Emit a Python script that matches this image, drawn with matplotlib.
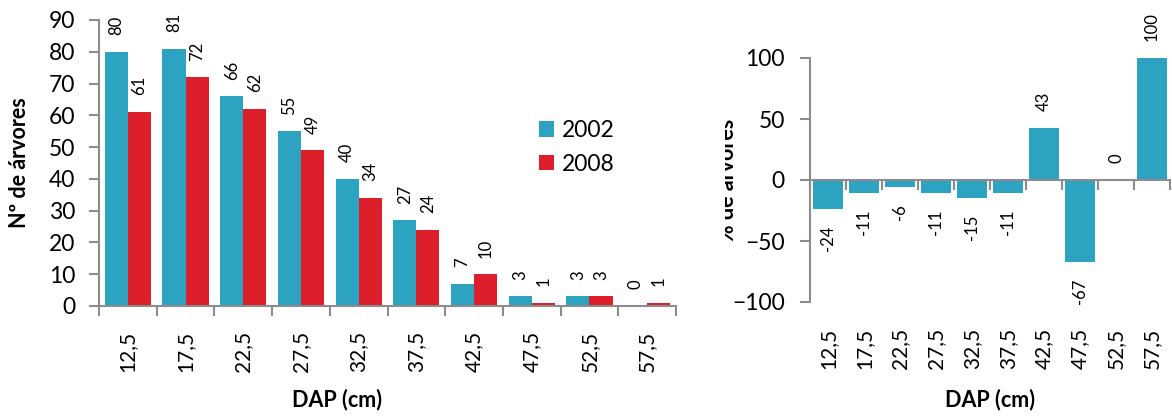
import matplotlib
matplotlib.use('Agg')
import matplotlib.pyplot as plt
from matplotlib.transforms import Bbox, TransformedBbox, blended_transform_factory
import numpy as np

plt.rcParams['font.family'] = ['Lato', 'DejaVu Sans']

# Data
dap_classes = ['12,5', '17,5', '22,5', '27,5', '32,5', '37,5', '42,5', '47,5', '52,5', '57,5']
trees_2002 = [80, 81, 66, 55, 40, 27, 7, 3, 3, 0]
trees_2008 = [61, 72, 62, 49, 34, 24, 10, 1, 3, 1]
pct_change = [-24, -11, -6, -11, -15, -11, 43, -67, 0, 100]

teal = '#2CA3C0'
red = '#DC1F2B'
axis_gray = '#8C8C8C'

fig = plt.figure(figsize=(11.72, 4.16), dpi=100)
ax1 = fig.add_axes([99 / 1172, 1 - 306 / 416, 577 / 1172, 286 / 416])
ax2 = fig.add_axes([810 / 1172, 1 - 302 / 416, 360 / 1172, 244 / 416])

x = np.arange(len(dap_classes))
bounds = np.arange(len(dap_classes) + 1) - 0.5
w = 0.4

# ---- left panel: counts per class ----
b1 = ax1.bar(x - w / 2, trees_2002, w, color=teal, label='2002')
b2 = ax1.bar(x + w / 2, trees_2008, w, color=red, label='2008')
for bars, vals in ((b1, trees_2002), (b2, trees_2008)):
    for rect, v in zip(bars, vals):
        ax1.annotate(str(v), (rect.get_x() + rect.get_width() / 2, v),
                     xytext=(0, 12), textcoords='offset points',
                     rotation=90, ha='center', va='bottom', fontsize=12)

ax1.set_xlim(-0.5, len(dap_classes) - 0.5)
ax1.set_ylim(0, 90)
ax1.set_yticks(range(0, 91, 10))
ax1.set_xticks(bounds)
ax1.set_xticklabels([])
ax1.set_xticks(x, minor=True)
ax1.set_xticklabels(dap_classes, minor=True, rotation=90, fontsize=15)
ax1.tick_params(axis='x', which='major', direction='out', length=7, width=1.5, color=axis_gray)
ax1.tick_params(axis='x', which='minor', length=0, pad=18)
ax1.tick_params(axis='y', direction='out', length=7, width=1.5, color=axis_gray,
                labelsize=16.5, pad=10)
for s in ('top', 'right'):
    ax1.spines[s].set_visible(False)
for s in ('left', 'bottom'):
    ax1.spines[s].set_color(axis_gray)
    ax1.spines[s].set_linewidth(1.5)

ax1.set_ylabel('Nº de árvores', fontsize=15.5, fontweight='bold')
ax1.yaxis.set_label_coords((30 - 99) / 577, 0.5)
ax1.set_xlabel('DAP (cm)', fontsize=15.5, fontweight='bold')
ax1.xaxis.set_label_coords((337 - 99) / 577, -(400 - 306) / 286)
ax1.xaxis.label.set_va('center')

ax1.legend(loc='center left', bbox_to_anchor=((539 - 99) / 577, (306 - 147.5) / 286),
           frameon=False, fontsize=16.5, borderpad=0, borderaxespad=0,
           handlelength=0.66, handleheight=0.66, handletextpad=0.35, labelspacing=0.55)

# ---- right panel: % change ----
bars = ax2.bar(x, pct_change, 0.86, color=teal)
for rect, v in zip(bars, pct_change):
    if v >= 0:
        ax2.annotate(str(v), (rect.get_x() + rect.get_width() / 2, v),
                     xytext=(0, 12), textcoords='offset points',
                     rotation=90, ha='center', va='bottom', fontsize=12)
    else:
        ax2.annotate(str(v), (rect.get_x() + rect.get_width() / 2, v),
                     xytext=(0, -12), textcoords='offset points',
                     rotation=90, ha='center', va='top', fontsize=12)

ax2.set_xlim(-0.5, len(dap_classes) - 0.5)
ax2.set_ylim(-100, 100)
ax2.set_yticks([-100, -50, 0, 50, 100])
ax2.set_xticks(bounds)
ax2.set_xticklabels([])
ax2.spines['bottom'].set_position(('data', 0))
ax2.tick_params(axis='x', direction='out', length=7, width=1.5, color=axis_gray)
ax2.tick_params(axis='y', direction='out', length=7, width=1.5, color=axis_gray,
                labelsize=16.5, pad=11)
for s in ('top', 'right'):
    ax2.spines[s].set_visible(False)
for s in ('left', 'bottom'):
    ax2.spines[s].set_color(axis_gray)
    ax2.spines[s].set_linewidth(1.5)

trans = blended_transform_factory(ax2.transData, ax2.transAxes)
for xi, lab in zip(x, dap_classes):
    ax2.text(xi, -(328 - 302) / 244, lab, transform=trans, rotation=90,
             ha='center', va='top', fontsize=15)

ax2.set_xlabel('DAP (cm)', fontsize=15.5, fontweight='bold')
ax2.xaxis.set_label_coords(0.5, -(400 - 302) / 244)
ax2.xaxis.label.set_va('center')

# y label is partly cut off on its left side in the original
yl = ax2.set_ylabel('% de árvores', fontsize=15.5, fontweight='bold')
ax2.yaxis.set_label_coords((738 - 810) / 360, 0.5)
yl.set_clip_box(TransformedBbox(Bbox([[725 / 1172, 0], [1, 1]]), fig.transFigure))
yl.set_clip_on(True)

fig.savefig('out.png', dpi=100)
